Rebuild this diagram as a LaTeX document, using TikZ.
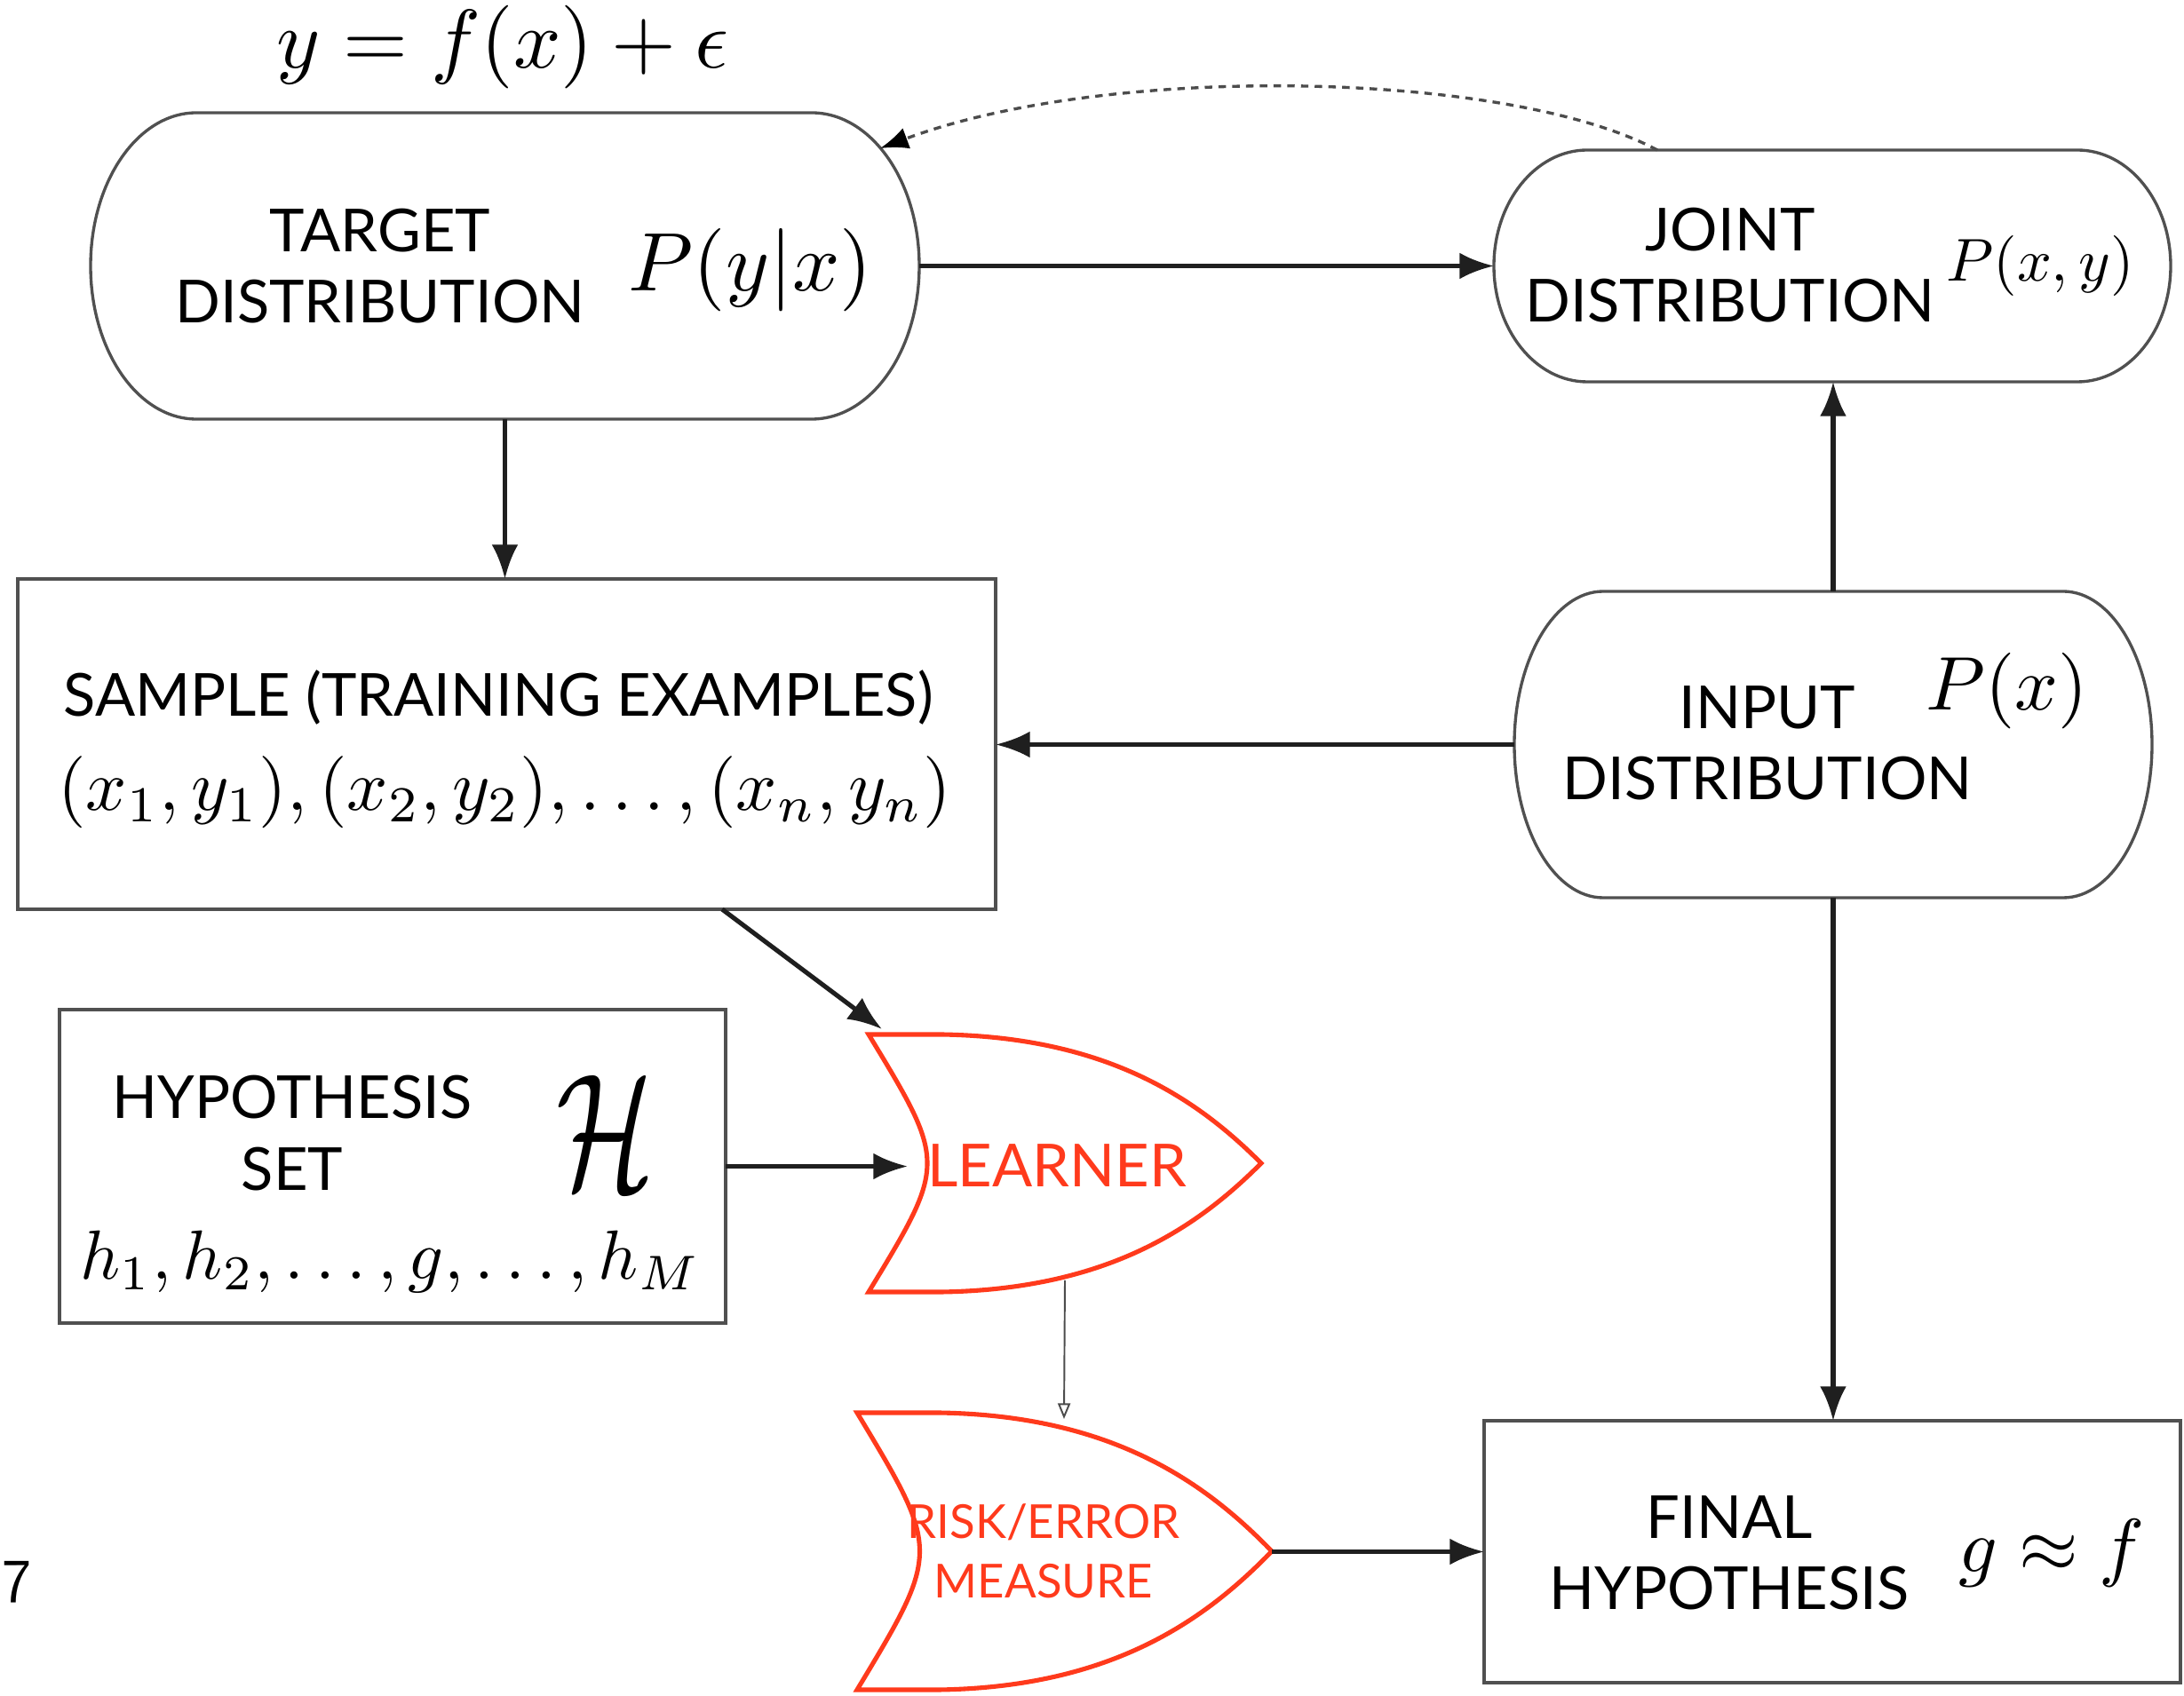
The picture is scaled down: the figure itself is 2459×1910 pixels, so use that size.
\documentclass[tikz,border=0pt]{standalone}
\usepackage{fontspec}
\usepackage{graphicx}
\usetikzlibrary{arrows.meta,fit,calc}
\newfontfamily\lato{Lato}
\definecolor{lred}{RGB}{255,58,28}
\definecolor{boxgray}{RGB}{80,80,80}
\begin{document}
\begin{tikzpicture}[x=0.01cm,y=-0.01cm,
  ph/.style={inner sep=0pt, outer sep=0pt},
  outline/.style={draw=boxgray, line width=0.95pt},
  redline/.style={draw=lred, line width=1.45pt, line join=miter},
  lbl/.style={font=\lato\fontsize{19}{22.8}\selectfont, align=center, inner sep=0pt},
  rlbl/.style={font=\lato\fontsize{15}{19.06}\selectfont, align=center, inner sep=0pt, text=lred},
  conn/.style={draw=black!88, line width=1.45pt, -{Latex[length=11pt,width=8.5pt]}},
  thinarrow/.style={draw=black!70, line width=0.55pt, -{Triangle[open,length=5pt,width=4pt]}},
  dcurve/.style={draw=black!70, line width=0.95pt, dash pattern=on 2.4pt off 2pt, -{Latex[length=9pt,width=7pt,color=black]}},
  mlbl/.style={inner sep=0pt, anchor=base}
]
\useasboundingbox (0,0) rectangle (2459,1910);
\fill[white] (0,0) rectangle (2459,1910);

% ---- shapes ----
% target distribution
\draw[outline] (221,127) -- (914,127) arc[start angle=-90,end angle=90,x radius=121,y radius=172.5]
  -- (221,472) arc[start angle=90,end angle=270,x radius=119,y radius=172.5] -- cycle;
\node[ph, fit={(102,127)(1035,472)}] (target) {};
% joint distribution
\draw[outline] (1787,169) -- (2339,169) arc[start angle=-90,end angle=90,x radius=105,y radius=130.5]
  -- (1787,430) arc[start angle=90,end angle=270,x radius=105,y radius=130.5] -- cycle;
\node[ph, fit={(1682,169)(2444,430)}] (joint) {};
% input distribution
\draw[outline] (1805,666) -- (2323,666) arc[start angle=-90,end angle=90,x radius=100,y radius=172.5]
  -- (1805,1011) arc[start angle=90,end angle=270,x radius=100,y radius=172.5] -- cycle;
\node[ph, fit={(1705,666)(2423,1011)}] (input) {};
% rectangles
\node[ph, outline, fit={(20,652)(1121,1024)}] (sample) {};
\node[ph, outline, fit={(67,1137)(817,1490)}] (hyp) {};
\node[ph, outline, fit={(1671,1600)(2455,1895)}] (final) {};
% learner
\draw[redline] (978,1165) -- (1060,1165) .. controls (1250,1168) and (1350,1240) .. (1420,1310)
  .. controls (1350,1380) and (1250,1452) .. (1060,1455) -- (978,1455)
  .. controls (1066,1310) .. (978,1165) -- cycle;
\node[ph, fit={(978,1165)(1420,1455)}] (learner) {};
% risk / error measure
\draw[redline] (965,1591) -- (1057,1591) .. controls (1255,1594) and (1359,1672) .. (1432,1747)
  .. controls (1359,1822) and (1255,1900) .. (1057,1903) -- (965,1903)
  .. controls (1059,1747) .. (965,1591) -- cycle;
\node[ph, fit={(965,1591)(1432,1903)}] (risk) {};

% ---- coordinates ----
\coordinate (lrnin) at (1022,1313.5);
\coordinate (lrntop) at (993,1159);
\coordinate (lrnbot) at (1199,1442);
\coordinate (risktop) at (1198,1598);
\coordinate (risktip) at (1432,1747.5);
\coordinate (smpout) at (813,1024);
\coordinate (jtop) at (1866,169);
\coordinate (tcorner) at (991,167);

% ---- texts ----
\node[mlbl] (eq) at (566,77) {\resizebox{5.09cm}{!}{$y=f(x)+\epsilon$}};
\node[lbl] (ttxt) at (428,300) {TARGET\\DISTRIBUTION};
\node[mlbl] (tmath) at (845,328) {\resizebox{2.74cm}{!}{$P(y|x)$}};
\node[lbl] (jtxt) at (1948,299) {JOINT\\DISTRIBUTION};
\node[mlbl] (jmath) at (2297,317) {\resizebox{2.11cm}{!}{$P(x,y)$}};
\node[lbl] (itxt) at (1990,837) {INPUT\\DISTRIBUTION};
\node[mlbl] (imath) at (2260,800) {\resizebox{1.82cm}{!}{$P(x)$}};
\node[lbl, anchor=base] (stxt) at (561,807) {SAMPLE (TRAINING EXAMPLES)};
\node[mlbl] (smath) at (568,913) {\resizebox{10.05cm}{!}{$(x_1,y_1),(x_2,y_2),\ldots,(x_n,y_n)$}};
\node[lbl] (htxt) at (329,1276) {HYPOTHESIS\\SET};
\node[ph] (hcal) at (682,1275) {\resizebox{1.1cm}{1.27cm}{$\mathcal{H}$}};
\node[mlbl] (hmath) at (440,1441) {\resizebox{6.98cm}{!}{$h_1,h_2,\ldots,g,\ldots,h_M$}};
\node[lbl, text=lred, anchor=base] (ltxt) at (1190,1337) {LEARNER};
\node[rlbl] (rtxt) at (1175,1747) {RISK/ERROR\\MEASURE};
\node[lbl] (ftxt) at (1947,1749) {FINAL\\HYPOTHESIS};
\node[mlbl] (fmath) at (2310,1771) {\resizebox{2.09cm}{!}{$g\approx f$}};
\node[ph, anchor=base west, font=\sffamily\fontsize{20}{24}\selectfont] (pnum) at (2,1805) {7};

% ---- connectors ----
\draw[conn] (target.south) -- (target.south |- sample.north);
\draw[conn] (target.east) -- (target.east -| joint.west);
\draw[conn] (input.north) -- (input.north |- joint.south);
\draw[conn] (input.west) -- (input.west -| sample.east);
\draw[conn] (smpout) -- (lrntop);
\draw[conn] (hyp.east) -- (lrnin);
\draw[thinarrow] (lrnbot) -- (risktop);
\draw[conn] (risktip) -- (final.west);
\draw[conn] (input.south) -- (input.south |- final.north);
\draw[dcurve] (jtop) .. controls (1700,80) and (1250,70) .. (tcorner);
\end{tikzpicture}
\end{document}
